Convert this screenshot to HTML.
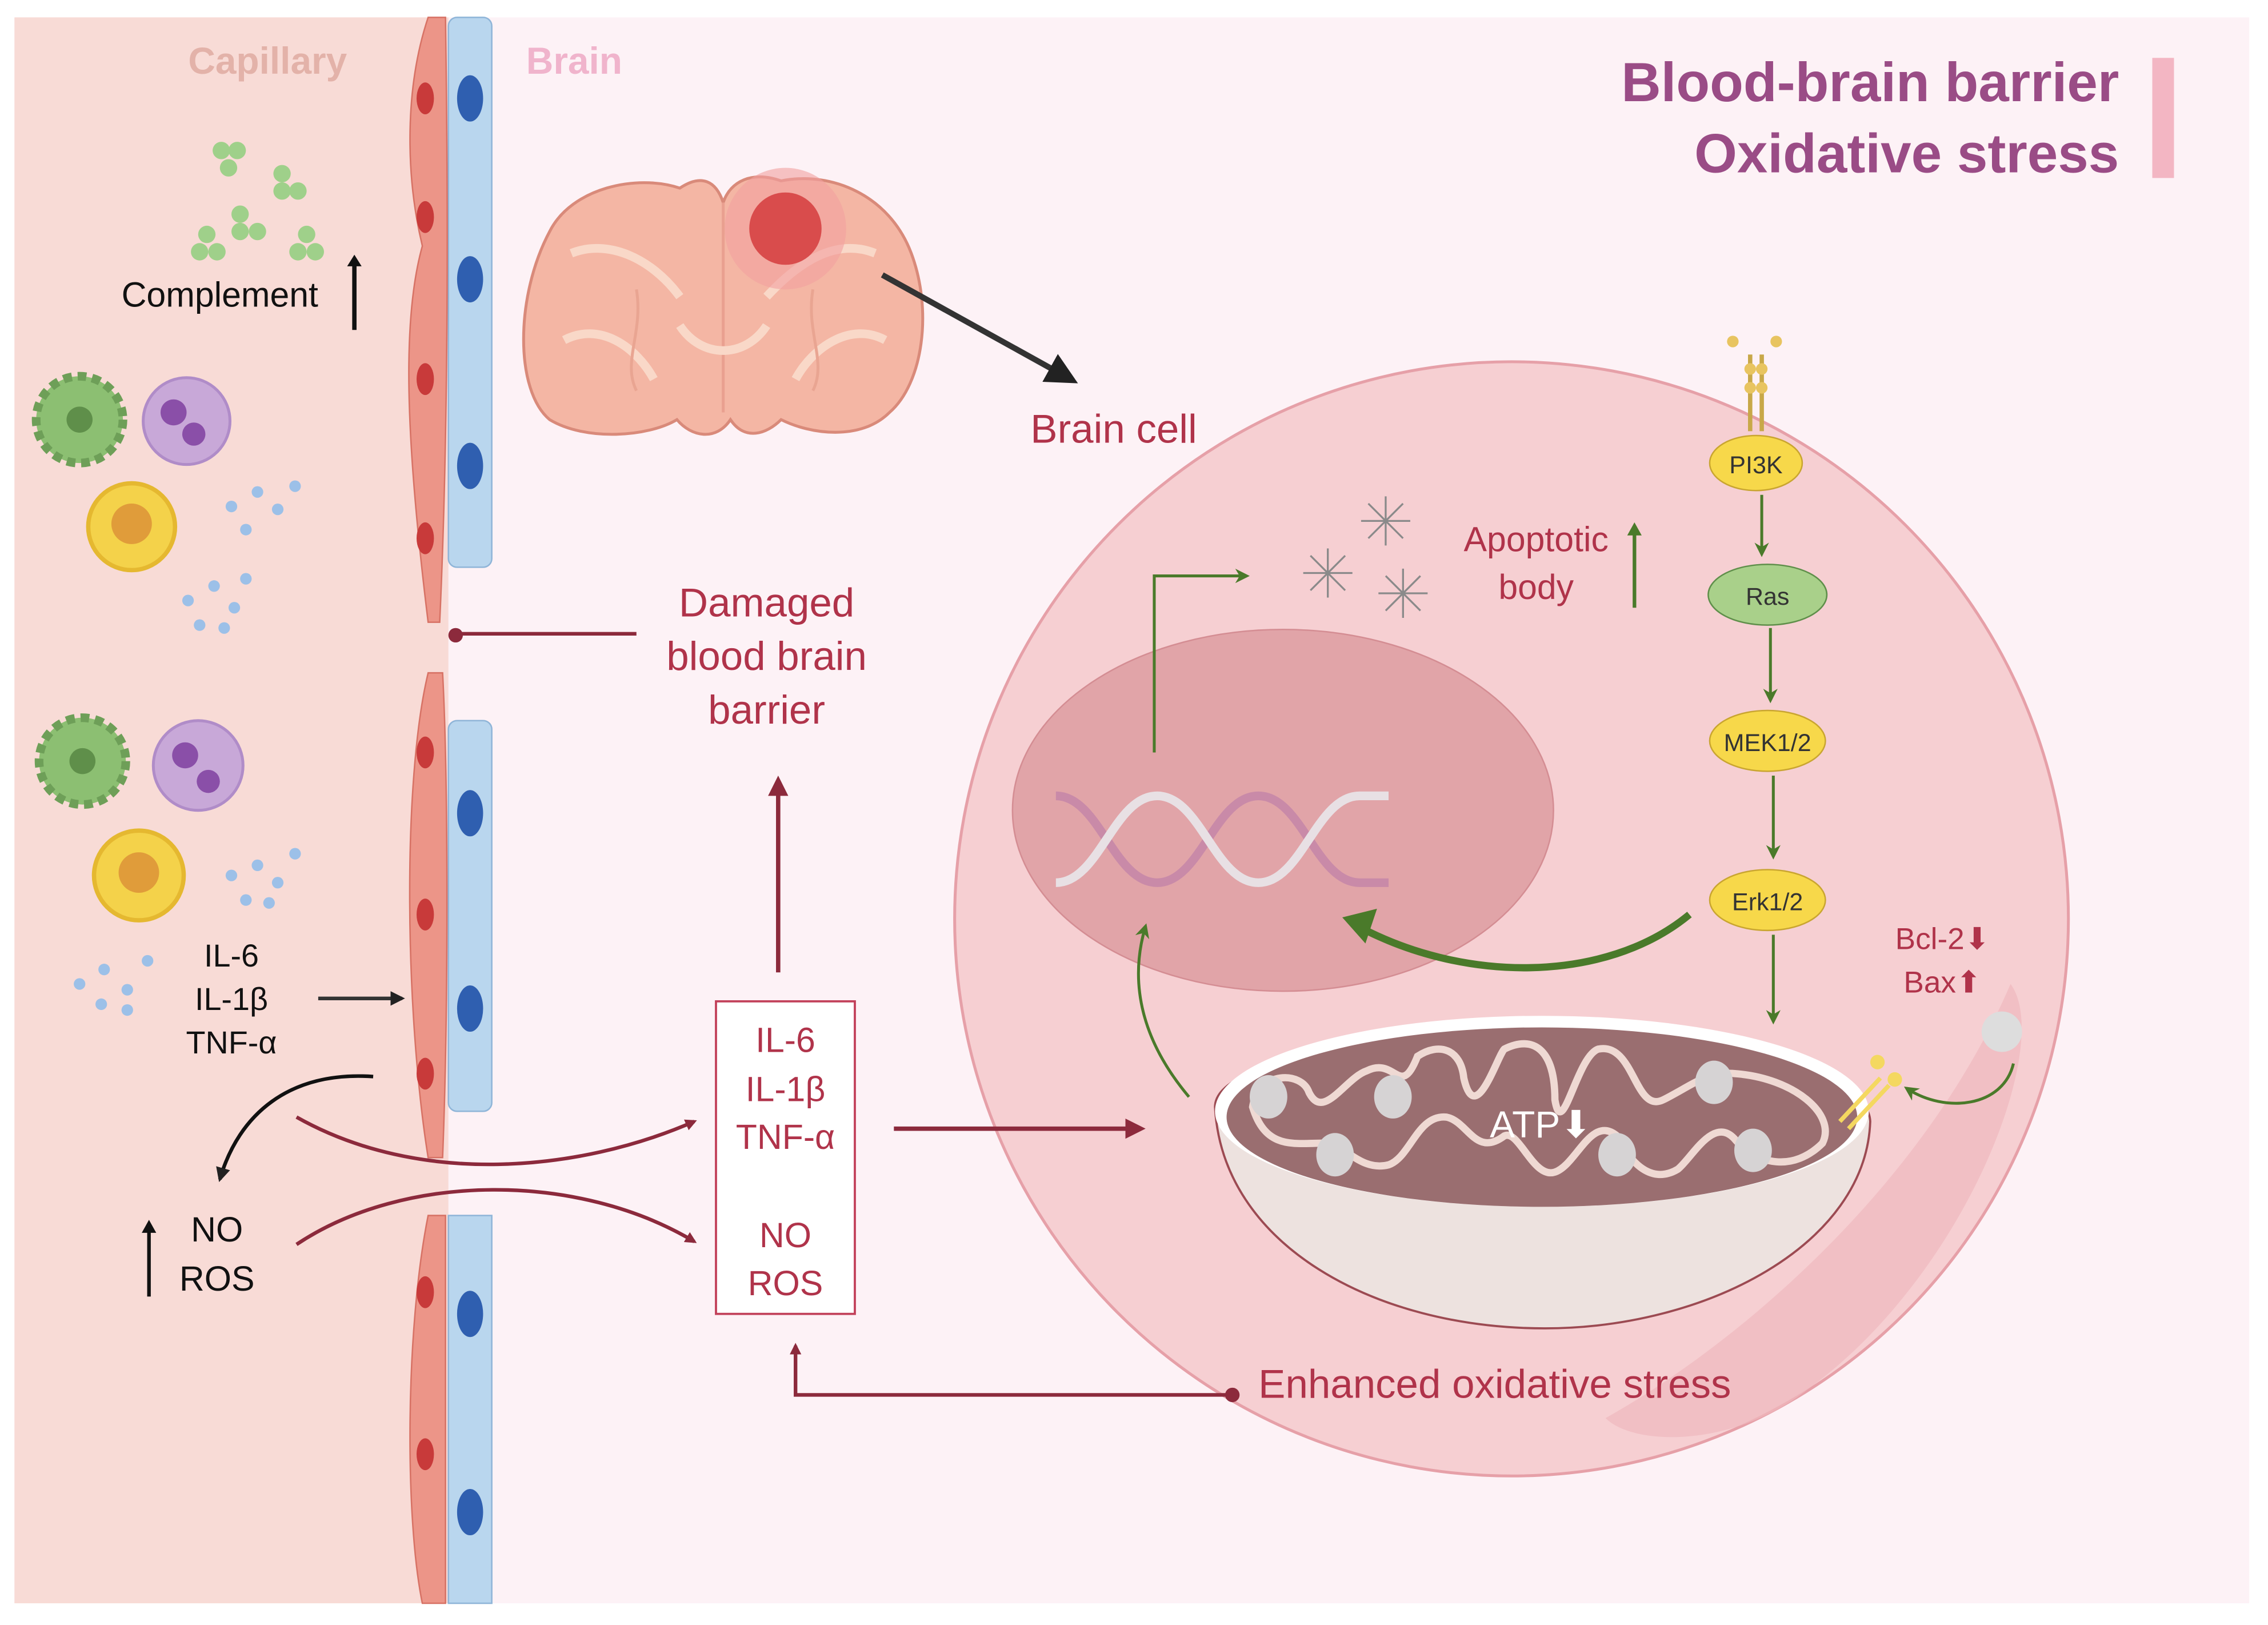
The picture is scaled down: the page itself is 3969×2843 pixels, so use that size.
<!DOCTYPE html>
<html><head><meta charset="utf-8"><style>
html,body{margin:0;padding:0;background:#fff;}
svg{display:block;}
text{font-family:"Liberation Sans",sans-serif;}
</style></head><body>
<svg width="3969" height="2843" viewBox="0 0 1568 1123" preserveAspectRatio="none" xmlns="http://www.w3.org/2000/svg">
<defs>
<marker id="ar" markerWidth="8" markerHeight="8" refX="6" refY="4" orient="auto" markerUnits="userSpaceOnUse"><path d="M0,0 L8,4 L0,8 z" fill="#8c2a3c"/></marker>
<marker id="ar2" markerWidth="14" markerHeight="14" refX="10" refY="7" orient="auto" markerUnits="userSpaceOnUse"><path d="M0,0 L14,7 L0,14 z" fill="#8c2a3c"/></marker>
<marker id="ag" markerWidth="10" markerHeight="10" refX="8" refY="5" orient="auto" markerUnits="userSpaceOnUse"><path d="M0,0 L10,5 L0,10 L3,5 z" fill="#4a7a2a"/></marker>
<marker id="ab" markerWidth="10" markerHeight="10" refX="8" refY="5" orient="auto" markerUnits="userSpaceOnUse"><path d="M0,0 L10,5 L0,10 z" fill="#222"/></marker>
<marker id="abig" markerWidth="22" markerHeight="22" refX="16" refY="11" orient="auto" markerUnits="userSpaceOnUse"><path d="M0,0 L22,11 L0,22 z" fill="#222"/></marker>
</defs>
<rect x="10" y="12" width="1545" height="1096" fill="#fdf2f6"/>
<rect x="10" y="12" width="300" height="1096" fill="#f8dbd6"/>
<g>
<rect x="310" y="12" width="30" height="380" rx="6" fill="#b9d6ee" stroke="#8fb5d8"/>
<rect x="310" y="498" width="30" height="270" rx="6" fill="#b9d6ee" stroke="#8fb5d8"/>
<rect x="310" y="840" width="30" height="268" fill="#b9d6ee" stroke="#8fb5d8"/>
<g fill="#2f5fb0"><ellipse cx="325" cy="68" rx="9" ry="16"/><ellipse cx="325" cy="193" rx="9" ry="16"/><ellipse cx="325" cy="322" rx="9" ry="16"/><ellipse cx="325" cy="562" rx="9" ry="16"/><ellipse cx="325" cy="697" rx="9" ry="16"/><ellipse cx="325" cy="908" rx="9" ry="16"/><ellipse cx="325" cy="1045" rx="9" ry="16"/></g>
<path d="M296,12 C280,60 280,120 292,170 C278,220 280,300 296,430 L304,430 C310,300 310,150 308,12 Z" fill="#ec9588" stroke="#d77265"/>
<path d="M296,465 C278,540 280,700 296,800 L306,800 C310,700 310,540 306,465 Z" fill="#ec9588" stroke="#d77265"/>
<path d="M296,840 C280,920 280,1050 292,1108 L308,1108 L308,840 Z" fill="#ec9588" stroke="#d77265"/>
<g fill="#c83a3a"><ellipse cx="294" cy="68" rx="6" ry="11"/><ellipse cx="294" cy="150" rx="6" ry="11"/><ellipse cx="294" cy="262" rx="6" ry="11"/><ellipse cx="294" cy="372" rx="6" ry="11"/><ellipse cx="294" cy="520" rx="6" ry="11"/><ellipse cx="294" cy="632" rx="6" ry="11"/><ellipse cx="294" cy="742" rx="6" ry="11"/><ellipse cx="294" cy="893" rx="6" ry="11"/><ellipse cx="294" cy="1005" rx="6" ry="11"/></g>
</g>
<text x="185" y="51" font-size="26" font-weight="bold" fill="#e3b2a9" text-anchor="middle">Capillary</text>
<text x="397" y="51" font-size="26" font-weight="bold" fill="#f0b4cc" text-anchor="middle">Brain</text>
<text x="1465" y="70" font-size="38" font-weight="bold" fill="#9a4c86" text-anchor="end">Blood-brain barrier</text>
<text x="1465" y="119" font-size="38" font-weight="bold" fill="#9a4c86" text-anchor="end">Oxidative stress</text>
<rect x="1488" y="40" width="15" height="83" fill="#f3b6c3"/>
<g fill="#9fd08a"><circle cx="153" cy="104" r="6"/><circle cx="164" cy="104" r="6"/><circle cx="158" cy="116" r="6"/><circle cx="195" cy="120" r="6"/><circle cx="206" cy="132" r="6"/><circle cx="195" cy="132" r="6"/><circle cx="166" cy="148" r="6"/><circle cx="178" cy="160" r="6"/><circle cx="166" cy="160" r="6"/><circle cx="143" cy="162" r="6"/><circle cx="138" cy="174" r="6"/><circle cx="150" cy="174" r="6"/><circle cx="212" cy="162" r="6"/><circle cx="206" cy="174" r="6"/><circle cx="218" cy="174" r="6"/></g>
<text x="152" y="212" font-size="24" fill="#111" text-anchor="middle">Complement</text>
<line x1="245" y1="228" x2="245" y2="180" stroke="#111" stroke-width="3"/><path d="M240,184 L245,176 L250,184z" fill="#111"/>
<g>
<circle cx="55" cy="290" r="30" fill="#8cbf72" stroke="#6e9f58" stroke-dasharray="6 4" stroke-width="6"/><circle cx="55" cy="290" r="9" fill="#5f8f4a"/>
<circle cx="129" cy="291" r="30" fill="#c8a8d8" stroke="#b08cc8" stroke-width="2"/><circle cx="120" cy="285" r="9" fill="#8a4fa8"/><circle cx="134" cy="300" r="8" fill="#8a4fa8"/>
<circle cx="91" cy="364" r="30" fill="#f4d24a" stroke="#e5b830" stroke-width="3"/><circle cx="91" cy="362" r="14" fill="#e09c3a"/>
<g fill="#9cc0e8"><circle cx="160" cy="350" r="4"/><circle cx="178" cy="340" r="4"/><circle cx="192" cy="352" r="4"/><circle cx="170" cy="366" r="4"/><circle cx="204" cy="336" r="4"/><circle cx="130" cy="415" r="4"/><circle cx="148" cy="405" r="4"/><circle cx="162" cy="420" r="4"/><circle cx="138" cy="432" r="4"/><circle cx="170" cy="400" r="4"/><circle cx="155" cy="434" r="4"/></g>
</g>
<g>
<circle cx="57" cy="526" r="30" fill="#8cbf72" stroke="#6e9f58" stroke-dasharray="6 4" stroke-width="6"/><circle cx="57" cy="526" r="9" fill="#5f8f4a"/>
<circle cx="137" cy="529" r="31" fill="#c8a8d8" stroke="#b08cc8" stroke-width="2"/><circle cx="128" cy="522" r="9" fill="#8a4fa8"/><circle cx="144" cy="540" r="8" fill="#8a4fa8"/>
<circle cx="96" cy="605" r="31" fill="#f4d24a" stroke="#e5b830" stroke-width="3"/><circle cx="96" cy="603" r="14" fill="#e09c3a"/>
<g fill="#9cc0e8"><circle cx="160" cy="605" r="4"/><circle cx="178" cy="598" r="4"/><circle cx="192" cy="610" r="4"/><circle cx="170" cy="622" r="4"/><circle cx="204" cy="590" r="4"/><circle cx="186" cy="624" r="4"/><circle cx="55" cy="680" r="4"/><circle cx="72" cy="670" r="4"/><circle cx="88" cy="684" r="4"/><circle cx="70" cy="694" r="4"/><circle cx="102" cy="664" r="4"/><circle cx="88" cy="698" r="4"/></g>
</g>
<text x="160" y="668" font-size="22" fill="#111" text-anchor="middle">IL-6</text>
<text x="160" y="698" font-size="22" fill="#111" text-anchor="middle">IL-1β</text>
<text x="160" y="728" font-size="22" fill="#111" text-anchor="middle">TNF-α</text>
<line x1="220" y1="690" x2="278" y2="690" stroke="#333" stroke-width="2.5" marker-end="url(#ab)"/>
<path d="M258,744 C200,740 165,770 152,815" fill="none" stroke="#111" stroke-width="2.5" marker-end="url(#ab)"/>
<text x="150" y="858" font-size="24" fill="#111" text-anchor="middle">NO</text>
<text x="150" y="892" font-size="24" fill="#111" text-anchor="middle">ROS</text>
<line x1="103" y1="896" x2="103" y2="848" stroke="#111" stroke-width="2.5"/><path d="M98,852 L103,843 L108,852z" fill="#111"/>
<path d="M205,772 C290,820 400,810 480,775" fill="none" stroke="#8c2a3c" stroke-width="2.5" marker-end="url(#ar)"/>
<path d="M205,860 C280,810 400,810 480,858" fill="none" stroke="#8c2a3c" stroke-width="2.5" marker-end="url(#ar)"/>
<rect x="495" y="692" width="96" height="216" fill="#fff" stroke="#c2415a" stroke-width="1.5"/>
<g font-size="24" fill="#b0334a" text-anchor="middle"><text x="543" y="727">IL-6</text><text x="543" y="761">IL-1β</text><text x="543" y="794">TNF-α</text><text x="543" y="862">NO</text><text x="543" y="895">ROS</text></g>
<line x1="538" y1="672" x2="538" y2="540" stroke="#8c2a3c" stroke-width="3" marker-end="url(#ar2)"/>
<text x="530" y="426" font-size="28" fill="#b0334a" text-anchor="middle">Damaged</text>
<text x="530" y="463" font-size="28" fill="#b0334a" text-anchor="middle">blood brain</text>
<text x="530" y="500" font-size="28" fill="#b0334a" text-anchor="middle">barrier</text>
<line x1="440" y1="438" x2="315" y2="438" stroke="#8c2a3c" stroke-width="2.5"/><circle cx="315" cy="439" r="5" fill="#8c2a3c"/>
<g>
<path d="M380,160 C395,130 440,120 470,130 C485,120 495,125 500,140 C505,125 520,118 540,125 C575,118 615,135 630,175 C645,215 638,265 615,285 C595,305 560,300 540,290 C530,300 515,305 505,290 C495,305 478,302 468,290 C448,302 405,305 380,290 C356,270 356,205 380,160 Z" fill="#f4b6a4" stroke="#d98a7a" stroke-width="2"/>
<path d="M500,140 L500,285" stroke="#e9a090" stroke-width="2"/>
<path d="M395,175 C420,165 450,178 470,205 M605,175 C580,165 555,178 530,205 M390,235 C415,222 440,240 452,262 M612,235 C588,222 562,240 550,262 M470,225 C485,248 515,248 530,225" fill="none" stroke="#f9d8c8" stroke-width="6"/>
<path d="M440,200 C445,230 430,250 440,270 M562,200 C557,230 572,250 562,270" fill="none" stroke="#e9a592" stroke-width="2"/>
<circle cx="543" cy="158" r="42" fill="#f2a0a0" opacity="0.6"/>
<circle cx="543" cy="158" r="25" fill="#d94c4c"/>
</g>
<line x1="610" y1="190" x2="740" y2="262" stroke="#333" stroke-width="4" marker-end="url(#abig)"/>
<text x="770" y="306" font-size="28" fill="#b0334a" text-anchor="middle">Brain cell</text>
<circle cx="1045" cy="635" r="385" fill="#f6cfd2" stroke="#e6a0a8" stroke-width="2"/>
<path d="M1390,680 C1420,720 1360,880 1250,960 C1200,1000 1130,1000 1110,980 C1200,930 1330,820 1390,680 Z" fill="#f0b8bd" opacity="0.7"/>
<ellipse cx="887" cy="560" rx="187" ry="125" fill="#e1a4a8" stroke="#d48d93"/>
<g fill="none" stroke-width="6">
<path d="M730,550 C760,550 770,610 800,610 C830,610 840,550 870,550 C900,550 910,610 940,610 L960,610" stroke="#c98aa8"/>
<path d="M730,610 C760,610 770,550 800,550 C830,550 840,610 870,610 C900,610 910,550 940,550 L960,550" stroke="#e8e0e4"/>
</g>
<text x="1062" y="381" font-size="24" fill="#b0334a" text-anchor="middle">Apoptotic</text>
<text x="1062" y="414" font-size="24" fill="#b0334a" text-anchor="middle">body</text>
<line x1="1130" y1="420" x2="1130" y2="368" stroke="#4a7a2a" stroke-width="2.5"/><path d="M1125,370 L1130,361 L1135,370z" fill="#4a7a2a"/>
<g stroke="#8a8a8a" stroke-width="1.3"><g transform="translate(958,360)"><path d="M-17,0H17M0,-17V17M-12,-12L12,12M-12,12L12,-12"/></g><g transform="translate(918,396)"><path d="M-17,0H17M0,-17V17M-12,-12L12,12M-12,12L12,-12"/></g><g transform="translate(970,410)"><path d="M-17,0H17M0,-17V17M-12,-12L12,12M-12,12L12,-12"/></g></g>
<polyline points="798,520 798,398 862,398" fill="none" stroke="#4a7a2a" stroke-width="2" marker-end="url(#ag)"/>
<g stroke="#c8a848" stroke-width="3"><line x1="1210" y1="245" x2="1210" y2="298"/><line x1="1218" y1="245" x2="1218" y2="298"/></g>
<g fill="#e8c460"><circle cx="1198" cy="236" r="4"/><circle cx="1228" cy="236" r="4"/><circle cx="1210" cy="255" r="4"/><circle cx="1218" cy="255" r="4"/><circle cx="1210" cy="268" r="4"/><circle cx="1218" cy="268" r="4"/></g>
<ellipse cx="1214" cy="320" rx="32" ry="19" fill="#f7d84a" stroke="#c9a530"/><text x="1214" y="327" font-size="17" fill="#333" text-anchor="middle">PI3K</text>
<line x1="1218" y1="342" x2="1218" y2="383" stroke="#4a7a2a" stroke-width="2" marker-end="url(#ag)"/>
<ellipse cx="1222" cy="411" rx="41" ry="21" fill="#a9d08a" stroke="#5f8f4a"/><text x="1222" y="418" font-size="17" fill="#333" text-anchor="middle">Ras</text>
<line x1="1224" y1="434" x2="1224" y2="484" stroke="#4a7a2a" stroke-width="2" marker-end="url(#ag)"/>
<ellipse cx="1222" cy="512" rx="40" ry="21" fill="#f7d84a" stroke="#c9a530"/><text x="1222" y="519" font-size="17" fill="#333" text-anchor="middle">MEK1/2</text>
<line x1="1226" y1="536" x2="1226" y2="592" stroke="#4a7a2a" stroke-width="2" marker-end="url(#ag)"/>
<ellipse cx="1222" cy="622" rx="40" ry="21" fill="#f7d84a" stroke="#c9a530"/><text x="1222" y="629" font-size="17" fill="#333" text-anchor="middle">Erk1/2</text>
<line x1="1226" y1="646" x2="1226" y2="706" stroke="#4a7a2a" stroke-width="2" marker-end="url(#ag)"/>
<path d="M1168,632 C1110,680 1010,680 935,638" fill="none" stroke="#4a7a2a" stroke-width="5"/>
<path d="M928,634 L952,628 L944,652 z" fill="#4a7a2a"/>
<path d="M822,758 C790,720 780,680 792,640" fill="none" stroke="#4a7a2a" stroke-width="2" marker-end="url(#ag)"/>
<text x="1343" y="656" font-size="21" fill="#b0334a" text-anchor="middle">Bcl-2⬇</text>
<text x="1343" y="686" font-size="21" fill="#b0334a" text-anchor="middle">Bax⬆</text>
<circle cx="1384" cy="713" r="14" fill="#ddd"/>
<path d="M1392,735 C1385,765 1345,770 1318,752" fill="none" stroke="#4a7a2a" stroke-width="2" marker-end="url(#ag)"/>
<path d="M840,765 C840,700 1290,700 1293,775 C1290,860 1180,918 1068,918 C950,918 845,860 840,765 Z" fill="#ede2df" stroke="#9c4a52" stroke-width="1.5"/>
<ellipse cx="1066" cy="768" rx="226" ry="66" fill="#fff"/>
<ellipse cx="1066" cy="772" rx="218" ry="62" fill="#9a6e70"/>
<path d="M866,765 C870,740 900,740 905,755 C915,775 930,745 945,740 C965,730 968,760 980,730 C995,720 1010,725 1012,745 C1020,780 1035,730 1040,725 C1060,715 1075,725 1075,760 C1080,790 1090,730 1105,725 C1130,720 1130,770 1150,760 C1170,750 1180,740 1200,742 C1240,745 1270,770 1260,790 C1240,810 1215,805 1200,788 C1185,770 1170,800 1160,808 C1140,820 1125,800 1118,785 C1100,770 1090,805 1075,810 C1060,815 1050,780 1040,785 C1020,800 1015,775 1000,772 C980,770 975,800 960,805 C940,810 930,790 915,790 C895,790 875,795 866,765 Z" fill="none" stroke="#efd9d3" stroke-width="5"/>
<g fill="#d6d3d4"><ellipse cx="877" cy="758" rx="13" ry="15"/><ellipse cx="963" cy="758" rx="13" ry="15"/><ellipse cx="1185" cy="748" rx="13" ry="15"/><ellipse cx="923" cy="798" rx="13" ry="15"/><ellipse cx="1118" cy="798" rx="13" ry="15"/><ellipse cx="1212" cy="795" rx="13" ry="15"/></g>
<text x="1030" y="786" font-size="26" fill="#fff">ATP⬇</text>
<g stroke="#f4d860" stroke-width="3"><line x1="1272" y1="775" x2="1300" y2="745"/><line x1="1278" y1="780" x2="1306" y2="750"/></g>
<g fill="#f4d860"><circle cx="1298" cy="734" r="5"/><circle cx="1310" cy="746" r="5"/></g>
<text x="870" y="966" font-size="28" fill="#b0334a">Enhanced oxidative stress</text>
<polyline points="852,964 550,964 550,930" fill="none" stroke="#8c2a3c" stroke-width="2.5" marker-end="url(#ar)"/>
<circle cx="852" cy="964" r="5" fill="#8c2a3c"/>
<line x1="618" y1="780" x2="788" y2="780" stroke="#8c2a3c" stroke-width="3" marker-end="url(#ar2)"/>
</svg>
</body></html>
